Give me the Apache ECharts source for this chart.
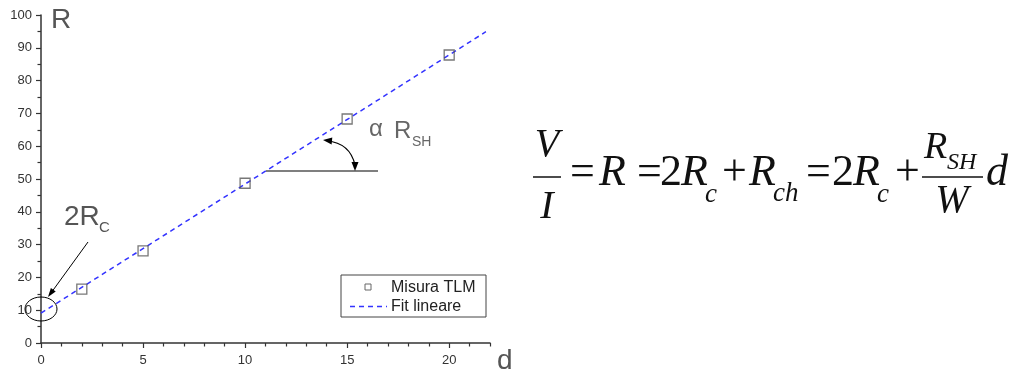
<!DOCTYPE html>
<html>
<head>
<meta charset="utf-8">
<script src="https://cdn.jsdelivr.net/npm/echarts@6/dist/echarts.min.js"></script>
<style>
  html, body { margin: 0; padding: 0; background: #ffffff; }
  #chart { width: 1018px; height: 370px; }
</style>
</head>
<body>
<div id="chart"></div>
<script>
// TLM measurement: total resistance R vs pad spacing d
const distances = [2, 5, 10, 15, 20];
const resistances = [16.4, 28.1, 48.7, 68.3, 87.8];

// linear fit endpoints (d, R)
const fitD = [0, 21.8];
const fitR = [9.1, 94.9];

// axis ticks
const xMajorTicks = [0, 5, 10, 15, 20];
const xMinorTicks = [1, 2, 3, 4, 6, 7, 8, 9, 11, 12, 13, 14, 16, 17, 18, 19, 21, 22];

const SANS = '"Liberation Sans", Arial, sans-serif';
const SERIF = '"Liberation Serif", "Times New Roman", serif';

// place text by its alphabetic baseline (canvas 'middle' sits ~0.34em above it)
function txt(str, x, base, size, opts) {
  opts = opts || {};
  const family = opts.family || SERIF;
  const italic = opts.italic ? 'italic ' : '';
  const align = opts.align || 'left';
  return {
    type: 'text',
    x: x,
    y: base - 0.34 * size,
    z: 10,
    style: {
      text: str,
      font: italic + size + 'px ' + family,
      fill: opts.color || '#111',
      align: align, textAlign: align,
      verticalAlign: 'middle', textVerticalAlign: 'middle'
    }
  };
}

function seg(x1, y1, x2, y2, color, w) {
  return { type: 'line', z: 10, shape: { x1, y1, x2, y2 },
           style: { stroke: color || '#000', lineWidth: w || 1 } };
}

function head(tx, ty, fx, fy, len, wid) {
  const dx = tx - fx, dy = ty - fy;
  const L = Math.sqrt(dx * dx + dy * dy);
  const ux = dx / L, uy = dy / L;
  const bx = tx - ux * len, by = ty - uy * len;
  return { type: 'polygon', z: 10,
    shape: { points: [[tx, ty], [bx - uy * wid / 2, by + ux * wid / 2], [bx + uy * wid / 2, by - ux * wid / 2]] },
    style: { fill: '#000' } };
}

const graphics = [];

// axis names
graphics.push(txt('R', 51, 30, 28, { family: SANS, color: '#555' }));
graphics.push(txt('d', 497, 371, 28, { family: SANS, color: '#555' }));

// intercept callout: 2R_C with ellipse and arrow
graphics.push(txt('2R', 64, 227, 28, { family: SANS, color: '#555' }));
graphics.push(txt('C', 99, 233, 15, { family: SANS, color: '#555' }));
graphics.push({ type: 'ellipse', z: 10, shape: { cx: 41, cy: 309, rx: 16, ry: 12 },
                style: { fill: 'none', stroke: '#000', lineWidth: 1 } });
graphics.push(seg(88, 242, 51, 293, '#000', 1));
graphics.push(head(48, 297, 88, 242, 9, 6));

// slope callout: α R_SH
graphics.push(txt('α', 369, 138, 24, { family: SANS, color: '#666' }));
graphics.push(txt('R', 394, 140, 24, { family: SANS, color: '#666' }));
graphics.push(txt('SH', 412, 147, 14, { family: SANS, color: '#666' }));
graphics.push(seg(266, 171, 378, 171, '#000', 1.2));
graphics.push({ type: 'bezierCurve', z: 10,
  shape: { x1: 327, y1: 141, x2: 355, y2: 165, cpx1: 350, cpy1: 143 },
  style: { stroke: '#000', lineWidth: 1.2, fill: 'none' } });
graphics.push(head(323, 140, 333, 141, 9, 7));
graphics.push(head(355, 171, 355, 162, 9, 7));

// legend box
graphics.push({ type: 'rect', z: 10, shape: { x: 341, y: 275, width: 145, height: 42 },
                style: { fill: '#fff', stroke: '#444', lineWidth: 1 } });
graphics.push({ type: 'rect', z: 11, shape: { x: 365, y: 284, width: 6, height: 6 },
                style: { fill: 'none', stroke: '#666', lineWidth: 1 } });
graphics.push({ type: 'line', z: 11, shape: { x1: 350, y1: 306.5, x2: 387, y2: 306.5 },
                style: { stroke: '#3333ff', lineWidth: 1.3, lineDash: [5, 4] } });
graphics.push(txt('Misura TLM', 391, 293, 16, { family: SANS, color: '#222' }));
graphics.push(txt('Fit lineare', 391, 312, 16, { family: SANS, color: '#222' }));

// formula: V/I = R = 2R_c + R_ch = 2R_c + (R_SH / W) d
const F = 44, S = 27, SB = 204;
graphics.push(txt('V', 547, 159, 40, { italic: true, align: 'center' }));
graphics.push(seg(533, 177, 561, 177, '#111', 1.5));
graphics.push(txt('I', 547, 221, 40, { italic: true, align: 'center' }));
graphics.push(txt('=', 570, 188, F));
graphics.push(txt('R', 599, 188, F, { italic: true }));
graphics.push(txt('=', 637, 188, F));
graphics.push(txt('2', 660, 188, F));
graphics.push(txt('R', 681, 188, F, { italic: true }));
graphics.push(txt('c', 705, SB, S, { italic: true }));
graphics.push(txt('+', 722, 188, F));
graphics.push(txt('R', 749, 188, F, { italic: true }));
graphics.push(txt('ch', 773, SB - 1, S, { italic: true }));
graphics.push(txt('=', 806, 188, F));
graphics.push(txt('2', 832, 188, F));
graphics.push(txt('R', 853, 188, F, { italic: true }));
graphics.push(txt('c', 877, SB, S, { italic: true }));
graphics.push(txt('+', 895, 188, F));
graphics.push(txt('R', 924, 161, 38, { italic: true }));
graphics.push(txt('SH', 947, 171, 24, { italic: true }));
graphics.push(seg(922, 177, 983, 177, '#111', 1.5));
graphics.push(txt('W', 952, 215, 40, { italic: true, align: 'center' }));
graphics.push(txt('d', 986, 188, F, { italic: true }));

const axisCommon = {
  type: 'value',
  axisLine: { show: true, lineStyle: { color: '#333', width: 1.5 } },
  splitLine: { show: false },
  axisLabel: { color: '#333', fontSize: 13, fontFamily: SANS }
};

const option = {
  backgroundColor: '#ffffff',
  animation: false,
  grid: { left: 41, top: 15, width: 449, height: 328, containLabel: false, outerBoundsMode: 'none' },
  xAxis: [
    Object.assign({}, axisCommon, {
      min: 0, max: 22, interval: 5,
      axisTick: { show: true, length: 5, lineStyle: { color: '#333', width: 1.2 }, customValues: xMajorTicks },
      axisLabel: Object.assign({}, axisCommon.axisLabel, { margin: 11, customValues: xMajorTicks })
    }),
    {
      type: 'value', position: 'bottom', min: 0, max: 22, interval: 1,
      axisLine: { show: false }, splitLine: { show: false },
      axisLabel: { show: false },
      axisTick: { show: true, length: 3.5, lineStyle: { color: '#333', width: 1.2 }, customValues: xMinorTicks }
    }
  ],
  yAxis: Object.assign({}, axisCommon, {
    min: 0, max: 100, interval: 10,
    axisTick: { show: true, length: 5, lineStyle: { color: '#333', width: 1.2 } },
    minorTick: { show: true, splitNumber: 2, length: 3.5, lineStyle: { color: '#333', width: 1.2 } },
    axisLabel: Object.assign({}, axisCommon.axisLabel, { margin: 9 })
  }),
  series: [
    {
      name: 'Fit lineare',
      type: 'line',
      xAxisIndex: 0,
      data: fitD.map((d, i) => [d, fitR[i]]),
      showSymbol: false,
      lineStyle: { color: '#3333ff', width: 1.5, type: [5, 4] },
      z: 2
    },
    {
      name: 'Misura TLM',
      type: 'scatter',
      xAxisIndex: 0,
      data: distances.map((d, i) => [d, resistances[i]]),
      symbol: 'rect',
      symbolSize: 10,
      itemStyle: { color: 'rgba(255,255,255,0)', borderColor: '#555', borderWidth: 1.3 },
      z: 3
    }
  ],
  graphic: { elements: graphics }
};

const chart = echarts.init(document.getElementById('chart'), null, { renderer: 'canvas' });
chart.setOption(option);
</script>
</body>
</html>
